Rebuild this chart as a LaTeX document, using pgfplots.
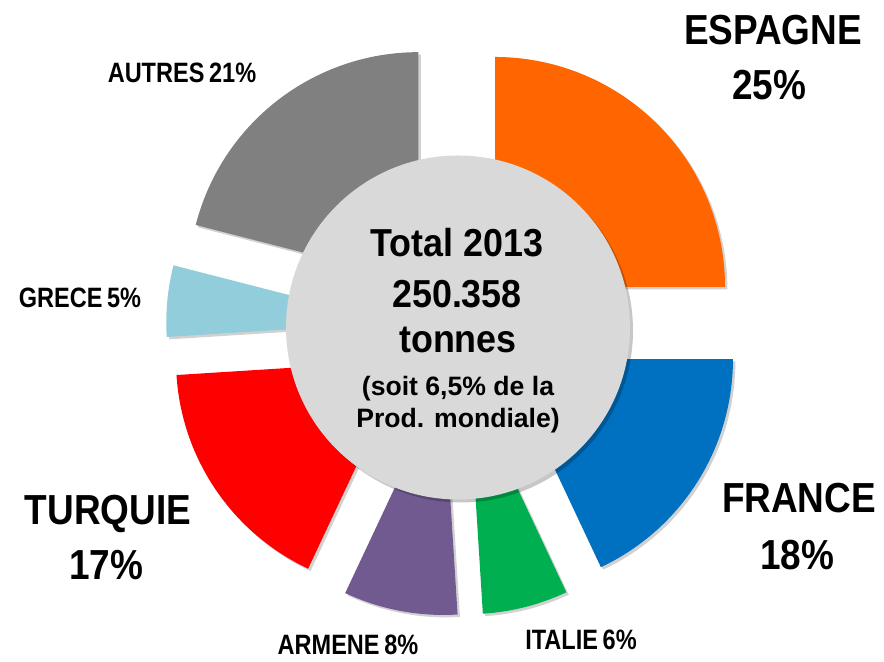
\documentclass[border=0pt]{standalone}
\usepackage{pgfplots}
\pgfplotsset{compat=1.18}
\usepackage{pgfplotstable}
\usepackage{fontspec}
\setmainfont{Liberation Sans}
\newfontfamily\lblbig[FakeStretch=0.88]{Liberation Sans}
\newfontfamily\lblsmall[FakeStretch=0.84]{Liberation Sans}
\newfontfamily\ctrfont[FakeStretch=0.92]{Liberation Sans}
\usetikzlibrary{shadows}

\definecolor{cEsp}{HTML}{FF6600}
\definecolor{cFra}{HTML}{0070C0}
\definecolor{cIta}{HTML}{00B050}
\definecolor{cArm}{HTML}{705A90}
\definecolor{cTur}{HTML}{FF0000}
\definecolor{cGre}{HTML}{92CDDC}
\definecolor{cAut}{HTML}{808080}
\definecolor{cCirc}{HTML}{D9D9D9}

% share of 2013 production, clockwise from 12 o'clock
\pgfplotstableread{
pct color
25  cEsp
18  cFra
6   cIta
8   cArm
17  cTur
5   cGre
21  cAut
}\pie

\tikzset{
  big/.style={anchor=base, font=\lblbig\bfseries\fontsize{21}{25}\selectfont},
  small/.style={anchor=base, font=\lblsmall\bfseries\fontsize{14}{16}\selectfont},
}

\begin{document}
\begin{tikzpicture}
\begin{axis}[
  width=442pt, height=329.5pt, scale only axis,
  xmin=0, xmax=884, ymin=0, ymax=659,
  hide axis, clip=false,
]
\path (axis cs:0,0) rectangle (axis cs:884,659);
\xdef\s{90}
\pgfplotsinvokeforeach{0,...,6}{
  \pgfplotstablegetelem{#1}{pct}\of\pie \pgfmathsetmacro\p{\pgfplotsretval}
  \pgfplotstablegetelem{#1}{color}\of\pie \edef\c{\pgfplotsretval}
  \pgfmathsetmacro\e{\s-3.6*\p}
  \pgfmathsetmacro\m{(\s+\e)/2}
  \pgfmathsetmacro\ax{454+58*cos(\m)}
  \pgfmathsetmacro\ay{331+58*sin(\m)}
  \edef\cmd{\noexpand\fill[\c, drop shadow={shadow xshift=1.2pt, shadow yshift=-1.2pt, opacity=0.18, fill=black}]
    (axis cs:\ax,\ay) -- ++(\s:115pt) arc[start angle=\s, end angle=\e, radius=115pt] -- cycle;}
  \cmd
  \xdef\s{\e}
}
\fill[cCirc, drop shadow={shadow xshift=1.5pt, shadow yshift=-1.5pt, opacity=0.22, fill=black}]
  (axis cs:458,331.5) circle[radius=86pt];

% centre text
\node[anchor=base, font=\ctrfont\bfseries\fontsize{19.5}{23}\selectfont] at (axis cs:457,402) {Total 2013};
\node[anchor=base, font=\ctrfont\bfseries\fontsize{19.5}{23}\selectfont] at (axis cs:457,351) {250.358};
\node[anchor=base, font=\ctrfont\bfseries\fontsize{19.5}{23}\selectfont] at (axis cs:458,306) {tonnes};
\node[anchor=base, font=\bfseries\fontsize{13.3}{16}\selectfont] at (axis cs:458,263) {(soit 6,5\% de la};
\node[anchor=base, font=\bfseries\fontsize{13.3}{16}\selectfont] at (axis cs:458,231) {Prod. mondiale)};

% labels
\node[big] at (axis cs:773,614) {ESPAGNE};
\node[big] at (axis cs:769,559) {25\%};
\node[big] at (axis cs:799,146) {FRANCE};
\node[big] at (axis cs:797,89) {18\%};
\node[big] at (axis cs:108,134) {TURQUIE};
\node[big] at (axis cs:106,79) {17\%};
\node[small] at (axis cs:182,576) {AUTRES\,21\%};
\node[small] at (axis cs:80,351) {GRECE\,5\%};
\node[small] at (axis cs:348,4) {ARMENE\,8\%};
\node[small] at (axis cs:581,9) {ITALIE\,6\%};
\end{axis}
\end{tikzpicture}
\end{document}
